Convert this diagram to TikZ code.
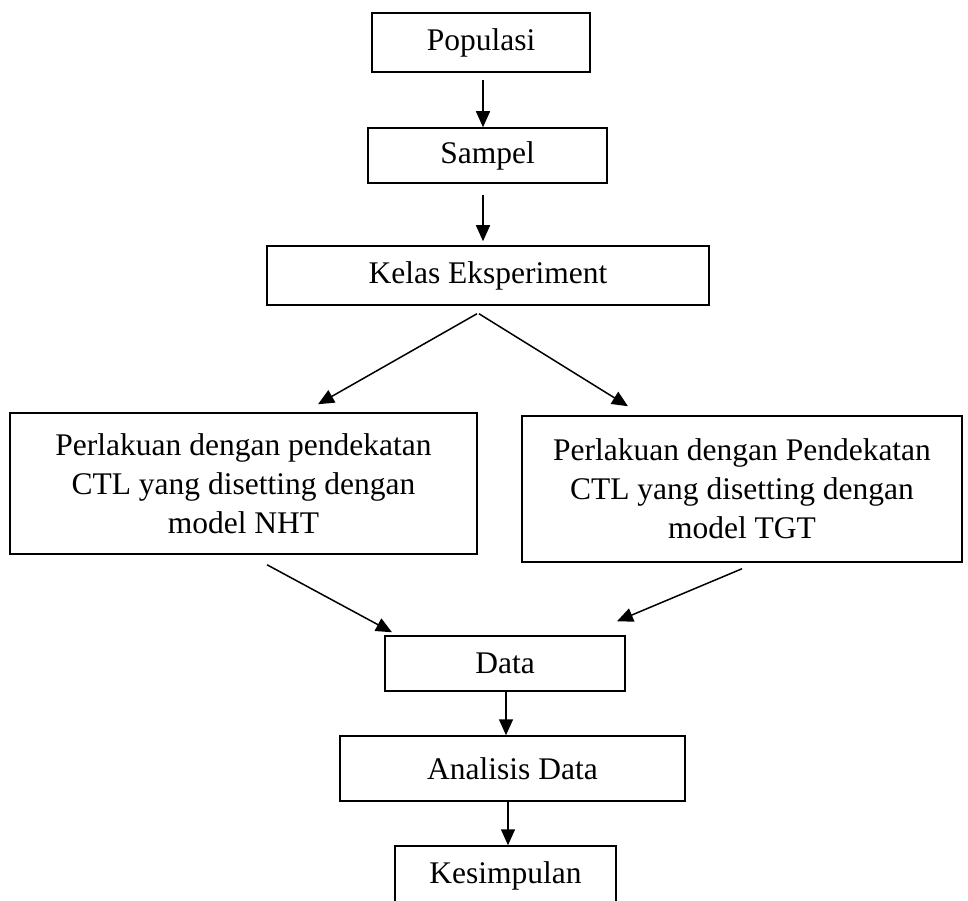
\documentclass[tikz,border=0pt]{standalone}
\usepackage{fontspec}
\setmainfont{Liberation Serif}
\usetikzlibrary{arrows.meta}
\begin{document}
\begin{tikzpicture}[x=1pt,y=-1pt,
  box/.style={draw,line width=1.5pt,inner sep=0pt,align=center,font=\fontsize{31.5}{39}\selectfont},
  arr/.style={line width=1.5pt,-{Triangle[length=16pt,width=14pt]}}]
\useasboundingbox (0,0) rectangle (968,901);
\clip (0,0) rectangle (968,901);
\node[box,minimum width=218pt,minimum height=59pt] (pop) at (481,42.5) {Populasi};
\node[box,minimum width=239pt,minimum height=55pt] (samp) at (487.5,155.5) {Sampel};
\node[box,minimum width=442pt,minimum height=59pt] (kelas) at (488,275.5) {Kelas Eksperiment};
\node[box,minimum width=467pt,minimum height=141pt] (left) at (243.5,483.5) {Perlakuan dengan pendekatan\\CTL yang disetting dengan\\model NHT};
\node[box,minimum width=440pt,minimum height=146pt] (right) at (742,489) {Perlakuan dengan Pendekatan\\CTL yang disetting dengan\\model TGT};
\node[box,minimum width=240pt,minimum height=55pt] (data) at (505,663.5) {Data};
\node[box,minimum width=345pt,minimum height=65pt] (anal) at (512.5,768.5) {Analisis Data};
\node[box,minimum width=221pt,minimum height=110pt,text depth=0pt] (kes) at (505.5,901) {};
\node[font=\fontsize{31.5}{39}\selectfont,inner sep=0pt] (kestext) at (505.5,876) {Kesimpulan};
\draw[arr] ([xshift=2pt,yshift=-7pt]pop.south) -- ([xshift=-4.5pt]samp.north);
\draw[arr] ([xshift=-4.5pt,yshift=-11pt]samp.south) -- ([xshift=-5pt,yshift=4pt]kelas.north);
\draw[arr] ([xshift=-11pt,yshift=-8pt]kelas.south) -- ([xshift=74.5pt,yshift=8pt]left.north);
\draw[arr] ([xshift=-9pt,yshift=-8pt]kelas.south) -- ([xshift=-114pt,yshift=9pt]right.north);
\draw[arr] ([xshift=23.5pt,yshift=-10pt]left.south) -- ([xshift=-113pt,yshift=3pt]data.north);
\draw[arr] ([yshift=-6pt]right.south) -- ([xshift=112pt,yshift=14pt]data.north);
\draw[arr] ([xshift=1pt]data.south) -- ([xshift=-6.5pt]anal.north);
\draw[arr] ([xshift=-4.5pt]anal.south) -- ([xshift=2.5pt]kes.north);
\end{tikzpicture}
\end{document}
